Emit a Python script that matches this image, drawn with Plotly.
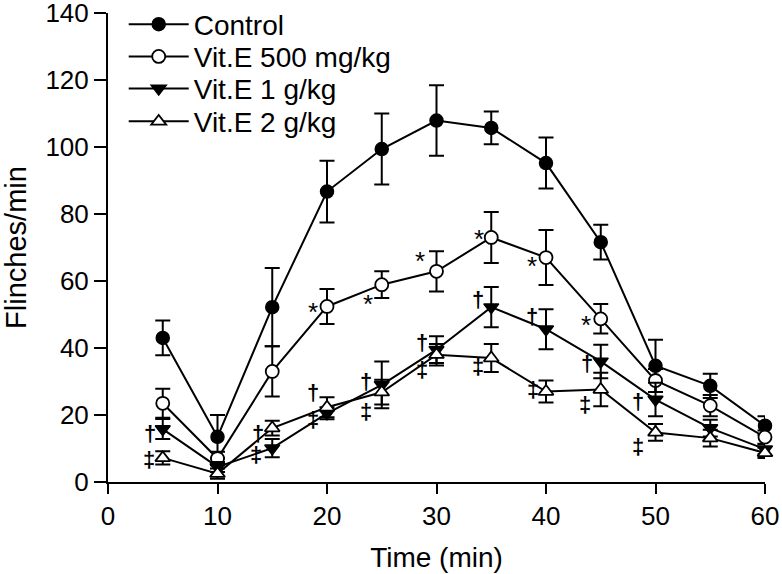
import plotly.graph_objects as go

time_min = [5, 10, 15, 20, 25, 30, 35, 40, 45, 50, 55, 60]

control = [43.0, 13.5, 52.2, 86.7, 99.4, 107.9, 105.7, 95.2, 71.6, 34.7, 28.7, 16.8]
control_err = [5.2, 6.5, 11.7, 9.2, 10.6, 10.5, 4.9, 7.6, 5.2, 7.8, 3.6, 2.8]

vit500 = [23.5, 7.0, 33.0, 52.4, 58.9, 62.9, 73.0, 67.0, 48.7, 30.3, 22.8, 13.4]
vit500_err = [4.3, 2.0, 7.5, 5.2, 4.0, 6.0, 7.6, 8.2, 4.4, 3.4, 3.2, 2.0]

vit1g = [15.8, 4.5, 10.1, 20.5, 29.0, 39.5, 52.2, 45.6, 36.0, 24.6, 16.1, 9.8]
vit1g_err = [3.0, 1.5, 2.7, 1.8, 7.0, 4.0, 6.0, 6.0, 5.0, 5.0, 2.5, 1.5]

vit2g = [7.2, 2.5, 16.1, 22.3, 26.8, 38.0, 37.0, 27.0, 27.6, 14.8, 13.1, 8.7]
vit2g_err = [2.0, 1.5, 2.2, 3.0, 3.7, 3.2, 4.2, 3.3, 5.0, 2.5, 2.5, 1.5]

series_names = ["Control", "Vit.E 500 mg/kg", "Vit.E 1 g/kg", "Vit.E 2 g/kg"]

# significance marks: symbol, x (time), y (value)
sig_symbols = ["†", "‡", "†", "‡",
               "*", "†", "‡",
               "*", "†", "‡",
               "*", "†", "‡",
               "*", "†", "‡",
               "*", "†", "‡",
               "*", "†", "‡",
               "†", "‡"]
sig_x = [3.8, 3.75, 13.7, 13.56,
         18.73, 18.73, 18.73,
         23.75, 23.6, 23.6,
         28.48, 28.63, 28.69,
         33.87, 33.8, 33.8,
         38.68, 38.68, 38.83,
         43.65, 43.71, 43.55,
         48.37, 48.37]
sig_y = [14.6, 6.7, 14.6, 8.1,
         51.9, 26.6, 18.6,
         54.4, 30.0, 21.1,
         67.3, 41.5, 33.5,
         73.8, 54.4, 34.5,
         65.6, 49.4, 27.6,
         48.1, 35.5, 23.1,
         24.1, 10.6]

x_ticks = [0, 10, 20, 30, 40, 50, 60]
y_ticks = [0, 20, 40, 60, 80, 100, 120, 140]

FONT = "Liberation Sans, Arial, sans-serif"

styles = [
    dict(symbol="circle", color="black", line=dict(color="black", width=1.5), size=13),
    dict(symbol="circle", color="white", line=dict(color="black", width=1.8), size=13),
    dict(symbol="triangle-down", color="black", line=dict(color="black", width=1.5), size=13),
    dict(symbol="triangle-up", color="white", line=dict(color="black", width=1.8), size=13),
]

# legend row centres (paper y) – one legend per row for tight spacing
legend_rows_y = [0.9755, 0.9068, 0.8386, 0.7683]
legend_ids = ["legend", "legend2", "legend3", "legend4"]

fig = go.Figure()
for name, vals, errs, st, lid in zip(series_names,
                                     [control, vit500, vit1g, vit2g],
                                     [control_err, vit500_err, vit1g_err, vit2g_err],
                                     styles, legend_ids):
    fig.add_trace(go.Scatter(
        x=time_min, y=vals, name=name, mode="lines+markers",
        line=dict(color="black", width=2),
        marker=st,
        error_y=dict(type="data", array=errs, color="black", thickness=2, width=7.5),
        cliponaxis=False,
        legend=lid,
    ))

for s, x, y in zip(sig_symbols, sig_x, sig_y):
    fig.add_annotation(
        x=x, y=y, text=s, showarrow=False, xanchor="center", yanchor="middle",
        font=dict(family=FONT, size=26 if s == "*" else 22, color="black",
                  weight="bold" if s != "*" else "normal"),
        yshift=-4 if s == "*" else 0,
    )

legend_common = dict(
    x=(124 - 108.3) / 656.7, xanchor="left", yanchor="middle",
    bgcolor="rgba(0,0,0,0)", font=dict(size=28, family=FONT, color="black"),
    itemwidth=60, tracegroupgap=0,
)

fig.update_layout(
    width=782, height=574,
    margin=dict(l=108, r=17, t=13, b=92, autoexpand=False),
    paper_bgcolor="white", plot_bgcolor="white",
    font=dict(family=FONT, size=26, color="black"),
    showlegend=True,
    legend=dict(y=legend_rows_y[0], **legend_common),
    legend2=dict(y=legend_rows_y[1], **legend_common),
    legend3=dict(y=legend_rows_y[2], **legend_common),
    legend4=dict(y=legend_rows_y[3], **legend_common),
    xaxis=dict(
        range=[0, 60], tickvals=x_ticks, showline=True, linecolor="black", linewidth=2,
        ticks="outside", ticklen=10, tickwidth=2, tickcolor="black",
        showgrid=False, zeroline=False, automargin=False, ticklabeloverflow="allow",
        title=dict(text="Time (min)", font=dict(size=28), standoff=17),
        tickfont=dict(size=26),
    ),
    yaxis=dict(
        range=[0, 140], tickvals=y_ticks, showline=True, linecolor="black", linewidth=2,
        ticks="outside", ticklen=12, tickwidth=2, tickcolor="black",
        showgrid=False, zeroline=False, automargin=False, ticklabeloverflow="allow",
        title=dict(text="Flinches/min", font=dict(size=29), standoff=12),
        tickfont=dict(size=26),
    ),
)

fig.write_html(
    "out.html",
    config={"displayModeBar": False},
    post_script="document.body.style.margin='0';document.body.style.padding='0';",
)
